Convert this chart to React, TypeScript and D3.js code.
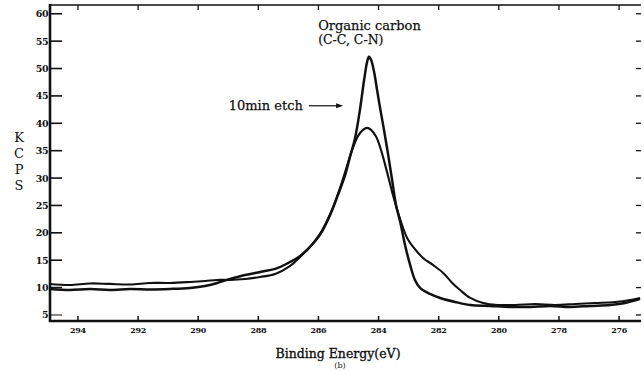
import React, { useEffect, useRef } from 'react';
import * as d3 from 'd3';

// 10 min etch spectrum (tall, narrow peak)
const etchEnergy = [
  294.93, 294.27, 293.6, 292.94, 292.27, 291.6, 290.94, 290.27, 289.77, 289.37,
  288.94, 288.44, 287.94, 287.44, 286.94, 286.61, 286.28, 285.95, 285.61, 285.35,
  285.11, 284.95, 284.78, 284.62, 284.48, 284.38, 284.32, 284.25, 284.15, 284.05,
  283.95, 283.82, 283.68, 283.55, 283.42, 283.28, 283.12, 282.95, 282.79, 282.62,
  282.29, 281.95, 281.45, 280.95, 280.29, 279.62, 278.96, 278.29, 277.63, 276.96,
  276.3, 275.8, 275.3,
];
const etchCounts = [
  9.75, 9.57, 9.75, 9.57, 9.75, 9.66, 9.75, 9.94, 10.3, 10.85,
  11.58, 12.31, 12.86, 13.41, 14.69, 15.78, 17.43, 19.62, 23.27, 26.93,
  30.58, 33.87, 37.34, 42.46, 47.94, 51.23, 52.14, 51.6, 49.4, 46.11,
  42.82, 38.8, 34.24, 29.67, 25.1, 21.99, 17.79, 14.14, 11.4, 9.94,
  8.84, 8.11, 7.38, 6.83, 6.65, 6.46, 6.46, 6.65, 6.46, 6.65,
  6.83, 7.19, 7.93,
];

// unetched spectrum (lower, broader peak with shoulder)
const broadEnergy = [
  294.93, 294.27, 293.6, 292.94, 292.27, 291.6, 290.94, 290.27, 289.77, 289.37,
  288.94, 288.44, 287.94, 287.44, 286.94, 286.61, 286.28, 285.95, 285.61, 285.35,
  285.11, 284.88, 284.68, 284.52, 284.38, 284.25, 284.08, 283.92, 283.72, 283.55,
  283.38, 283.22, 283.05, 282.85, 282.52, 282.19, 281.85, 281.55, 281.29, 280.95,
  280.52, 280.06, 279.46, 278.79, 278.13, 277.46, 276.8, 276.13, 275.63, 275.3,
];
const broadCounts = [
  10.67, 10.48, 10.76, 10.67, 10.57, 10.85, 10.85, 11.03, 11.21, 11.4,
  11.4, 11.58, 11.95, 12.49, 13.96, 15.6, 17.43, 19.8, 23.45, 27.11,
  31.13, 35.15, 37.71, 38.8, 39.17, 38.8, 37.53, 35.15, 31.13, 27.48,
  24.19, 21.45, 19.07, 17.43, 15.42, 14.14, 12.68, 10.85, 9.57, 8.11,
  7.19, 6.83, 6.83, 7.01, 6.83, 7.01, 7.19, 7.38, 7.74, 8.11,
];

const xTickValues = [294, 292, 290, 288, 286, 284, 282, 280, 278, 276];
const yTickValues = [5, 10, 15, 20, 25, 30, 35, 40, 45, 50, 55, 60];
const yTitle = ['K', 'C', 'P', 'S'];

const WIDTH = 644;
const HEIGHT = 371;

export default function App() {
  const svgRef = useRef<SVGSVGElement>(null);

  useEffect(() => {
    const svgElement = svgRef.current;
    if (!svgElement) return;
    const svg = d3.select(svgElement);
    svg.selectAll('*').remove();

    const left = 50;
    const right = 641;
    const top = 5;
    const bottom = 321;

    const x = d3.scaleLinear().domain([294.93, 275.27]).range([left, right]);
    const y = d3.scaleLinear().domain([3.9, 61.6]).range([bottom, top]);

    const serif = '"DejaVu Serif", "Liberation Serif", serif';
    const ink = '#111';

    svg.append('rect').attr('width', WIDTH).attr('height', HEIGHT).attr('fill', '#fff');

    // frame: heavy left + bottom, thin top
    svg.append('line')
      .attr('x1', left).attr('x2', right).attr('y1', top).attr('y2', top)
      .attr('stroke', ink).attr('stroke-width', 1.3);
    svg.append('line')
      .attr('x1', left).attr('x2', left).attr('y1', top - 1).attr('y2', bottom + 1)
      .attr('stroke', ink).attr('stroke-width', 2.6);
    svg.append('line')
      .attr('x1', left - 1).attr('x2', right).attr('y1', bottom).attr('y2', bottom)
      .attr('stroke', ink).attr('stroke-width', 2.6);

    // y ticks (left, inward) and mirrored right ticks
    yTickValues.forEach((v) => {
      svg.append('line')
        .attr('x1', left).attr('x2', left + 12).attr('y1', y(v)).attr('y2', y(v))
        .attr('stroke', ink).attr('stroke-width', v === 5 ? 1 : 1.6);
      svg.append('line')
        .attr('x1', right - 5).attr('x2', right).attr('y1', y(v)).attr('y2', y(v))
        .attr('stroke', ink).attr('stroke-width', 1.3);
      svg.append('text')
        .attr('x', left - 2).attr('y', y(v))
        .attr('text-anchor', 'end').attr('dominant-baseline', 'central')
        .attr('font-family', serif).attr('font-weight', 'bold')
        .attr('font-size', 9.5).attr('letter-spacing', -0.5)
        .attr('fill', ink)
        .text(v);
    });

    // x ticks (bottom up, top down)
    xTickValues.forEach((e) => {
      svg.append('line')
        .attr('x1', x(e)).attr('x2', x(e)).attr('y1', bottom).attr('y2', bottom - 5)
        .attr('stroke', ink).attr('stroke-width', 1.5);
      svg.append('line')
        .attr('x1', x(e)).attr('x2', x(e)).attr('y1', top).attr('y2', top + 5)
        .attr('stroke', ink).attr('stroke-width', 1.3);
      svg.append('text')
        .attr('x', x(e)).attr('y', bottom + 9)
        .attr('text-anchor', 'middle').attr('dominant-baseline', 'central')
        .attr('font-family', serif).attr('font-weight', 'bold')
        .attr('font-size', 8).attr('letter-spacing', -0.3)
        .attr('fill', ink)
        .text(e);
    });

    // axis titles
    yTitle.forEach((ch, i) => {
      svg.append('text')
        .attr('x', 19).attr('y', 137 + i * 16)
        .attr('text-anchor', 'middle').attr('dominant-baseline', 'central')
        .attr('font-family', serif).attr('font-size', 13)
        .attr('fill', ink)
        .text(ch);
    });
    svg.append('text')
      .attr('x', 338).attr('y', 358)
      .attr('text-anchor', 'middle')
      .attr('font-family', serif).attr('font-size', 12.5)
      .attr('fill', ink).attr('stroke', ink).attr('stroke-width', 0.35)
      .text('Binding Energy(eV)');
    svg.append('text')
      .attr('x', 340).attr('y', 368)
      .attr('text-anchor', 'middle')
      .attr('font-family', serif).attr('font-size', 8)
      .attr('fill', ink)
      .text('(b)');

    // spectra
    const line = d3.line<[number, number]>()
      .x((d) => x(d[0]))
      .y((d) => y(d[1]))
      .curve(d3.curveCatmullRom.alpha(0.5));

    const broad = broadEnergy.map((e, i) => [e, broadCounts[i]] as [number, number]);
    const etch = etchEnergy.map((e, i) => [e, etchCounts[i]] as [number, number]);

    svg.append('path')
      .datum(broad)
      .attr('fill', 'none').attr('stroke', ink)
      .attr('stroke-width', 2.1).attr('stroke-linejoin', 'round')
      .attr('d', line);
    svg.append('path')
      .datum(etch)
      .attr('fill', 'none').attr('stroke', ink)
      .attr('stroke-width', 2.5).attr('stroke-linejoin', 'round')
      .attr('d', line);

    // annotations
    svg.append('text')
      .attr('x', x(286.01)).attr('y', 30)
      .attr('font-family', serif).attr('font-size', 13)
      .attr('fill', ink).attr('stroke', ink).attr('stroke-width', 0.25)
      .text('Organic carbon');
    svg.append('text')
      .attr('x', x(286.01)).attr('y', 44)
      .attr('font-family', serif).attr('font-size', 12.5)
      .attr('fill', ink).attr('stroke', ink).attr('stroke-width', 0.25)
      .text('(C-C, C-N)');

    const tipX = x(285.18);
    const tipY = y(43.2);
    svg.append('text')
      .attr('x', x(286.52)).attr('y', tipY + 4)
      .attr('text-anchor', 'end')
      .attr('font-family', serif).attr('font-size', 13)
      .attr('fill', ink).attr('stroke', ink).attr('stroke-width', 0.25)
      .text('10min etch');
    svg.append('line')
      .attr('x1', x(286.32)).attr('x2', tipX - 5).attr('y1', tipY).attr('y2', tipY)
      .attr('stroke', ink).attr('stroke-width', 1.2);
    svg.append('path')
      .attr('d', `M${tipX},${tipY} L${tipX - 7},${tipY - 2.5} L${tipX - 7},${tipY + 2.5} Z`)
      .attr('fill', ink);

    return () => {
      svg.selectAll('*').remove();
    };
  }, []);

  return (
    <div style={{ position: 'absolute', left: 0, top: 0 }}>
      <svg ref={svgRef} width={WIDTH} height={HEIGHT} style={{ display: 'block' }} />
    </div>
  );
}
